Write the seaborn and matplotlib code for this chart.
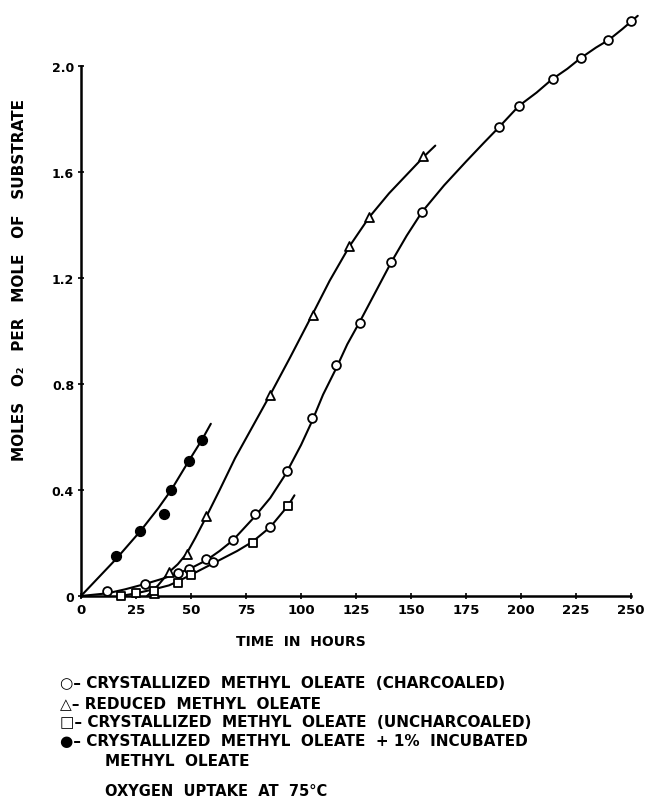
import numpy as np
import pandas as pd
import matplotlib
matplotlib.use("Agg")
import matplotlib.pyplot as plt
import seaborn as sns

# crystallized methyl oleate (charcoaled) - open circles
circ_x = [12, 29, 44, 49, 57, 60, 69, 79, 86, 93.5, 105, 116, 127, 141, 155, 190, 199, 214.5, 227, 239.5, 250]
circ_y = [0.02, 0.045, 0.087, 0.10, 0.14, 0.13, 0.21, 0.31, 0.26, 0.47, 0.67, 0.87, 1.03, 1.26, 1.45, 1.77, 1.85, 1.95, 2.03, 2.10, 2.17]
circ_curve_x = [0, 12, 20, 29, 37, 44, 50, 57, 63, 69, 79, 86, 93, 100, 105, 110, 116, 121, 127, 134, 141, 148, 155, 165, 175, 183, 190, 199, 207, 214, 221, 227, 234, 240, 246, 253]
circ_curve_y = [0, 0.01, 0.025, 0.045, 0.065, 0.085, 0.105, 0.135, 0.17, 0.21, 0.30, 0.37, 0.46, 0.57, 0.66, 0.76, 0.86, 0.95, 1.04, 1.15, 1.26, 1.36, 1.45, 1.55, 1.64, 1.71, 1.77, 1.85, 1.90, 1.95, 1.99, 2.03, 2.07, 2.10, 2.14, 2.19]

# reduced methyl oleate - triangles
tri_x = [33, 40, 48, 57, 86, 105.5, 122, 131, 155.5]
tri_y = [0.01, 0.09, 0.16, 0.30, 0.76, 1.06, 1.32, 1.43, 1.66]
tri_curve_x = [30, 35, 40, 44, 48, 52, 57, 63, 70, 78, 86, 95, 105, 113, 122, 131, 140, 148, 156, 161]
tri_curve_y = [0, 0.04, 0.09, 0.12, 0.16, 0.22, 0.30, 0.40, 0.52, 0.64, 0.76, 0.90, 1.06, 1.19, 1.32, 1.43, 1.52, 1.59, 1.66, 1.70]

# crystallized methyl oleate (uncharcoaled) - squares
sq_x = [18, 25, 33, 44, 50, 78, 94]
sq_y = [0.0, 0.01, 0.02, 0.05, 0.08, 0.20, 0.34]
sq_curve_x = [18, 25, 33, 40, 44, 50, 57, 64, 71, 78, 86, 94, 97]
sq_curve_y = [0, 0.01, 0.025, 0.04, 0.055, 0.08, 0.11, 0.14, 0.17, 0.205, 0.26, 0.34, 0.38]

# + 1% incubated methyl oleate - filled circles
dot_x = [16, 27, 37.5, 41, 49, 55]
dot_y = [0.15, 0.245, 0.31, 0.40, 0.51, 0.59]
dot_curve_x = [0, 16, 27, 35, 41, 49, 55, 59]
dot_curve_y = [0, 0.14, 0.245, 0.33, 0.40, 0.51, 0.59, 0.65]

xticks = [0, 25, 50, 75, 100, 125, 150, 175, 200, 225, 250]
yticks = [0, 0.4, 0.8, 1.2, 1.6, 2.0]
ytick_labels = ["0", "0.4", "0.8", "1.2", "1.6", "2.0"]

legend_lines = [
    "○– CRYSTALLIZED  METHYL  OLEATE  (CHARCOALED)",
    "△– REDUCED  METHYL  OLEATE",
    "□– CRYSTALLIZED  METHYL  OLEATE  (UNCHARCOALED)",
    "●– CRYSTALLIZED  METHYL  OLEATE  + 1%  INCUBATED",
]
legend_cont = "METHYL  OLEATE"
caption = "OXYGEN  UPTAKE  AT  75°C"

sns.set_style("ticks")
plt.rcParams["font.family"] = ["DejaVu Sans"]
plt.rcParams.update({"text.color": "black", "axes.labelcolor": "black",
                     "xtick.color": "black", "ytick.color": "black",
                     "axes.edgecolor": "black"})

fig = plt.figure(figsize=(6.48, 8.04), dpi=100)
ax = fig.add_axes([0.125, 0.2575, 0.849, 0.659])

# fitted curves
for cx, cy in [(circ_curve_x, circ_curve_y), (tri_curve_x, tri_curve_y),
               (sq_curve_x, sq_curve_y), (dot_curve_x, dot_curve_y)]:
    sns.lineplot(x=cx, y=cy, ax=ax, color="black", lw=1.5, sort=False,
                 estimator=None, clip_on=False, zorder=2)

# points
sns.scatterplot(x=circ_x, y=circ_y, ax=ax, marker="o", s=40, color="white",
                edgecolor="black", linewidth=1.3, zorder=3, clip_on=False)
sns.scatterplot(x=tri_x, y=tri_y, ax=ax, marker="^", s=42, color="white",
                edgecolor="black", linewidth=1.3, zorder=3, clip_on=False)
sns.scatterplot(x=sq_x, y=sq_y, ax=ax, marker="s", s=30, color="white",
                edgecolor="black", linewidth=1.3, zorder=3, clip_on=False)
sns.scatterplot(x=dot_x, y=dot_y, ax=ax, marker="o", s=50, color="black",
                edgecolor="black", linewidth=1.0, zorder=3, clip_on=False)

ax.set_xlim(0, 250)
ax.set_ylim(0, 2.0)
ax.set_xticks(xticks)
ax.set_xticklabels([str(t) for t in xticks], fontsize=9.5, fontweight="bold")
ax.set_yticks(yticks)
ax.set_yticklabels(ytick_labels, fontsize=9, fontweight="bold")
ax.tick_params(direction="inout", length=4, width=1.2, pad=3)
sns.despine(ax=ax)
for s in ["left", "bottom"]:
    ax.spines[s].set_linewidth(1.8)

ax.set_xlabel("TIME  IN  HOURS", fontsize=10, fontweight="bold")
ax.xaxis.set_label_coords(0.40, -0.072)
ax.set_ylabel("MOLES   O₂   PER   MOLE   OF   SUBSTRATE", fontsize=11,
              fontweight="bold")
ax.yaxis.set_label_coords(-0.098, 0.598)

for i, line in enumerate(legend_lines):
    fig.text(60 / 648, 1 - (684 + i * 19.3) / 804, line, fontsize=11,
             fontweight="bold", va="center", ha="left")
fig.text(105 / 648, 1 - (684 + 4 * 19.3) / 804, legend_cont, fontsize=11,
         fontweight="bold", va="center", ha="left")
fig.text(105 / 648, 1 - 792 / 804, caption, fontsize=10.5,
         fontweight="bold", va="center", ha="left")

fig.savefig("out.png", dpi=100)
